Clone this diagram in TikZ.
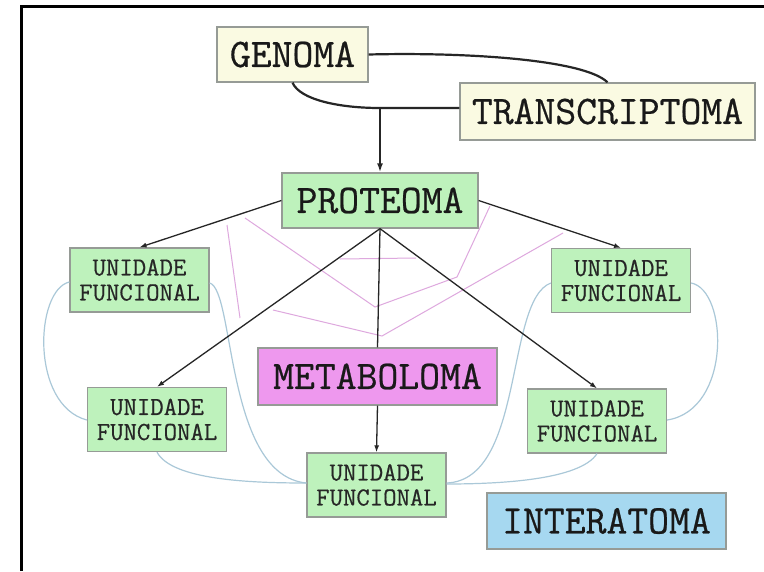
\documentclass[tikz,border=0pt]{standalone}
\usepackage{fontspec}
\newfontfamily\cour[FakeBold=0.6]{Latin Modern Mono}
\usetikzlibrary{arrows.meta}
\definecolor{cream}{RGB}{250,250,226}
\definecolor{lgreen}{RGB}{190,242,188}
\definecolor{mag}{RGB}{238,152,238}
\definecolor{lblue}{RGB}{166,216,240}
\definecolor{bordgray}{RGB}{150,155,150}
\definecolor{pinkline}{RGB}{222,168,222}
\definecolor{blueline}{RGB}{170,200,216}
\tikzset{
  bigbox/.style={draw=bordgray, line width=1.3pt, inner sep=0pt,
    font=\cour\fontsize{40.5}{42}\selectfont, text=black!90},
  ufbox/.style={draw=bordgray, line width=1.3pt, fill=lgreen, inner sep=0pt,
    minimum width=139pt, minimum height=64pt, align=center,
    font=\cour\fontsize{26}{25}\selectfont, text=black!85},
  blk/.style={line width=1.3pt, black!85},
  arr/.style={blk, -{Latex[length=7pt,width=5pt]}},
  genline/.style={line width=2.2pt, black!85},
  pinkl/.style={pinkline, line width=1pt},
  bluel/.style={blueline, line width=1.2pt}
}
\begin{document}
\begin{tikzpicture}[x=1pt,y=-1pt]
\useasboundingbox (0,0) rectangle (764,571);
\fill[white] (0,0) rectangle (764,571);

% boxes
\node[bigbox, fill=cream, minimum width=151pt, minimum height=55pt] (gen) at (292.5,54.5) {GENOMA};
\node[bigbox, fill=cream, minimum width=295pt, minimum height=57pt] (tra) at (607.5,111.5) {TRANSCRIPTOMA};
\node[bigbox, fill=lgreen, minimum width=196pt, minimum height=55pt] (pro) at (380,200.5) {PROTEOMA};
\node[bigbox, fill=mag, minimum width=239pt, minimum height=57pt] (met) at (377.5,376.5) {METABOLOMA};
\node[bigbox, fill=lblue, minimum width=239pt, minimum height=56pt] (int) at (606.5,521) {INTERATOMA};
\node[ufbox] (tl) at (139.5,280) {UNIDADE\\FUNCIONAL};
\node[ufbox] (bl) at (157,419.5) {UNIDADE\\FUNCIONAL};
\node[ufbox] (tr) at (621,280.5) {UNIDADE\\FUNCIONAL};
\node[ufbox] (br) at (597,421) {UNIDADE\\FUNCIONAL};
\node[ufbox] (bc) at (376.5,485) {UNIDADE\\FUNCIONAL};

% pink web
\draw[pinkl] (227,225) -- (240,318);
\draw[pinkl] (245,218) -- (375,307) -- (457,277) -- (490,206);
\draw[pinkl] (273,310) -- (382,336) -- (563,233);
\draw[pinkl] (340,259) -- (416,258);

% blue curves
\draw[bluel] (tl.west |- 0,282) .. controls (35,290) and (30,405) .. (bl.west |- 0,420);
\draw[bluel] (tl.east |- 0,283) .. controls (235,290) and (225,475) .. (bc.west |- 0,483);
\draw[bluel] (bl.south) .. controls (172,480) and (250,483) .. (bc.west |- 0,483);
\draw[bluel] (bc.east |- 0,483) .. controls (525,480) and (505,300) .. (tr.west |- 0,283);
\draw[bluel] (br.south) .. controls (580,480) and (500,484) .. (bc.east |- 0,484);
\draw[bluel] (tr.east |- 0,283) .. controls (728,290) and (732,410) .. (br.east |- 0,420);

% genoma / transcriptoma
\coordinate (j) at (380,108);
\draw[genline] (gen.east) .. controls (470,52) and (585,60) .. (tra.north);
\draw[genline] (gen.south) .. controls (300,100) and (340,108) .. (j) -- (j -| tra.west);
\draw[genline, -{Latex[length=9pt,width=6pt]}] (j) -- (pro.north);

% proteoma arrows
\draw[arr] (pro.west) -- (tl.north);
\draw[arr] (pro.east) -- (tr.north);
\draw[arr] (pro.south) -- (bl.north);
\draw[arr] (pro.south) -- (br.north);
\draw[blk] (pro.south) -- (met.north);
\draw[arr] (met.south) -- (bc.north);

% frame
\draw[line width=3pt, black] (21,571) -- (21,6) -- (764,6);
\end{tikzpicture}
\end{document}
